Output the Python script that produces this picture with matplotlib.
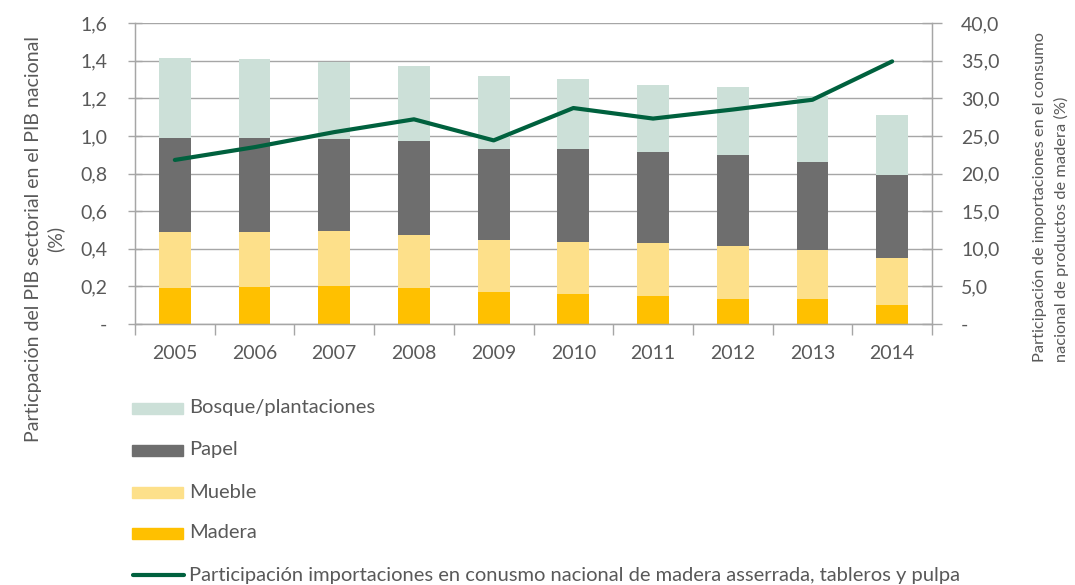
import matplotlib
matplotlib.use("Agg")
import matplotlib.pyplot as plt
import numpy as np
from matplotlib.patches import Rectangle
from matplotlib.lines import Line2D
from matplotlib.ticker import FixedLocator, FuncFormatter

# data
years = ["2005", "2006", "2007", "2008", "2009", "2010", "2011", "2012", "2013", "2014"]
madera = [0.19, 0.195, 0.20, 0.19, 0.17, 0.16, 0.15, 0.135, 0.135, 0.10]
mueble = [0.30, 0.295, 0.295, 0.285, 0.275, 0.275, 0.28, 0.28, 0.26, 0.25]
papel = [0.50, 0.50, 0.49, 0.50, 0.485, 0.495, 0.485, 0.485, 0.465, 0.44]
bosque = [0.425, 0.42, 0.41, 0.395, 0.39, 0.37, 0.355, 0.36, 0.35, 0.32]
importaciones = [21.8, 23.5, 25.5, 27.2, 24.4, 28.7, 27.3, 28.5, 29.8, 34.9]

series_names = ["Bosque/plantaciones", "Papel", "Mueble", "Madera"]
line_name = ("Participación importaciones en conusmo nacional de madera "
             "asserrada, tableros y pulpa")

c_bosque, c_papel, c_mueble, c_madera = "#CCE0D8", "#6E6E6E", "#FDE08A", "#FFC000"
c_line = "#00613E"
grey = "#595959"
axis_grey = "#A6A6A6"

plt.rcParams["font.family"] = ["Lato", "DejaVu Sans"]
W, H = 1075, 585
fig = plt.figure(figsize=(W / 100, H / 100), dpi=100)
ax = fig.add_axes([135 / W, 1 - 324 / H, (932 - 135) / W, (324 - 23) / H])

x = np.arange(len(years))
bw = 0.4
bottoms = np.zeros(len(years))
for vals, col in [(madera, c_madera), (mueble, c_mueble), (papel, c_papel), (bosque, c_bosque)]:
    ax.bar(x, vals, bw, bottom=bottoms, color=col, zorder=2)
    bottoms = bottoms + np.array(vals)


def fmt(v, p):
    # Excel accounting style: zero shown as a dash, comma as decimal mark
    return "-" if abs(v) < 1e-9 else f"{v:.1f}".replace(".", ",")


ax.set_xlim(-0.5, len(years) - 0.5)
ax.set_ylim(0, 1.6)
ax.set_yticks(np.arange(0, 1.61, 0.2))
ax.yaxis.set_major_formatter(FuncFormatter(fmt))
ax.grid(axis="y", color=axis_grey, lw=1, zorder=0)
ax.set_axisbelow(True)

ax.set_xticks(x)
ax.set_xticklabels(years)
ax.xaxis.set_minor_locator(FixedLocator(np.arange(-0.5, len(years), 1.0)))
ax.tick_params(axis="x", which="major", length=0, pad=15, labelsize=14, labelcolor=grey)
ax.tick_params(axis="x", which="minor", length=8, color=axis_grey, width=1)
ax.tick_params(axis="y", direction="inout", length=10, color=axis_grey, width=1,
               pad=15, labelsize=14, labelcolor=grey)

ax.spines["top"].set_visible(False)
for s in ["left", "right", "bottom"]:
    ax.spines[s].set_color(axis_grey)
    ax.spines[s].set_linewidth(1)

ax2 = ax.twinx()
ax2.plot(x, importaciones, color=c_line, lw=3, zorder=5, solid_capstyle="round")
ax2.set_ylim(0, 40)
ax2.set_yticks(np.arange(0, 40.1, 5))
ax2.yaxis.set_major_formatter(FuncFormatter(fmt))
ax2.tick_params(axis="y", direction="inout", length=14, color=axis_grey, width=1,
                pad=14, labelsize=14, labelcolor=grey)
ax2.spines["top"].set_visible(False)
for s in ["left", "right", "bottom"]:
    ax2.spines[s].set_color(axis_grey)

# axis titles
fig.text(45 / W, 1 - 239 / H,
         "Particpación del PIB sectorial en el PIB nacional\n(%)",
         rotation=90, ha="center", va="center", multialignment="center",
         fontsize=14, color=grey, linespacing=1.3)
fig.text(1051 / W, 1 - 362 / H,
         "Participación de importaciones en el consumo\nnacional de productos de madera (%)",
         rotation=90, ha="center", va="bottom", multialignment="left",
         fontsize=11.8, color=grey, linespacing=1.5)

# legend below the chart
entries = list(zip(series_names, [c_bosque, c_papel, c_mueble, c_madera]))
row_y = [408, 450, 492, 533, 575]
for (name, col), yy in zip(entries, row_y):
    fig.add_artist(Rectangle((132 / W, 1 - (yy + 5.5) / H), 51 / W, 11 / H,
                             transform=fig.transFigure, color=col))
    fig.text(189 / W, 1 - yy / H, name, ha="left", va="center", fontsize=14.5, color=grey)
fig.add_artist(Line2D([133 / W, 184 / W], [1 - row_y[4] / H] * 2,
                      transform=fig.transFigure, color=c_line, lw=3, solid_capstyle="round"))
fig.text(189 / W, 1 - row_y[4] / H, line_name, ha="left", va="center",
         fontsize=14.5, color=grey)

fig.savefig("out.png", dpi=100)
